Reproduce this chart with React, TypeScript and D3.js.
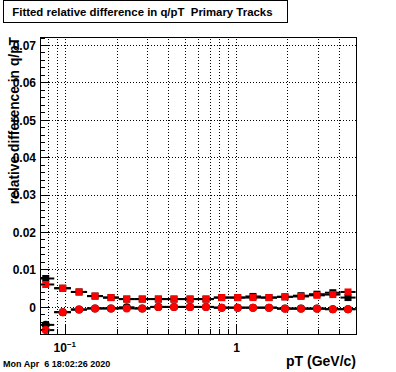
import React from "react";
import * as d3 from "d3";

const W = 396, H = 372;
const title = "Fitted relative difference in q/pT  Primary Tracks";
const xTitle = "pT (GeV/c)";
const yTitle = "relative difference in q/pT";
const dateText = "Mon Apr  6 18:02:26 2020";

const pt = [0.0766, 0.0963, 0.120, 0.1488, 0.1845, 0.228, 0.281, 0.349, 0.431, 0.535, 0.663, 0.819, 1.016, 1.249, 1.549, 1.921, 2.384, 2.956, 3.66, 4.49];
const blackSquares = [0.0077, 0.0051, 0.0041, 0.0030, 0.0026, 0.0022, 0.0022, 0.0022, 0.0022, 0.0022, 0.0022, 0.0026, 0.0026, 0.0029, 0.0026, 0.0028, 0.0031, 0.0035, 0.0039, 0.0026];
const redSquares = [0.0061, 0.0051, 0.0041, 0.0030, 0.0026, 0.0022, 0.0022, 0.0022, 0.0022, 0.0022, 0.0022, 0.0026, 0.0026, 0.0026, 0.0026, 0.0028, 0.0029, 0.0032, 0.0034, 0.0041];
const blackCircles = [-0.0047, -0.0013, -0.0006, -0.0003, -0.0003, 0.0000, -0.0003, 0.0001, 0.0001, 0.0001, 0.0001, -0.0001, -0.0001, -0.0001, -0.0001, -0.0003, -0.0003, -0.0003, -0.0005, -0.0005];
const redCircles = [-0.0061, -0.0013, -0.0006, -0.0003, -0.0003, -0.0003, -0.0003, 0.0001, 0.0001, 0.0001, 0.0001, -0.0001, -0.0001, -0.0001, -0.0001, -0.0004, -0.0004, -0.0004, -0.0005, -0.0005];

const yTicks = [0, 0.01, 0.02, 0.03, 0.04, 0.05, 0.06, 0.07];
const xMajor = [0.1, 1];
const xMinor = [0.08, 0.09, 0.2, 0.3, 0.4, 0.5, 0.6, 0.7, 0.8, 0.9, 2, 3, 4];

const FONT = "'Liberation Sans', Arial, Helvetica, sans-serif";

export default function App() {
  const x = d3.scaleLog().domain([0.0709, 5.0]).range([40, 356]);
  const y = d3.scaleLinear().domain([-0.00714, 0.07227]).range([334, 37]);
  const [x0, x1] = x.range();
  const [y0, y1] = y.range();

  const yMinor = d3.range(-0.006, 0.0722, 0.002).filter(v => Math.abs(v / 0.01 - Math.round(v / 0.01)) > 1e-6);

  const edges = pt.map((v, i) => {
    const prev = i > 0 ? pt[i - 1] : (v * v) / pt[i + 1];
    const next = i < pt.length - 1 ? pt[i + 1] : (v * v) / pt[i - 1];
    return [Math.sqrt(prev * v), Math.sqrt(v * next)];
  });

  const series = (vals: number[], color: string, shape: "sq" | "ci", key: string) => (
    <g key={key}>
      {vals.map((v, i) => (
        <line key={"e" + i} x1={x(edges[i][0])} x2={x(edges[i][1])} y1={y(v)} y2={y(v)} stroke="#000" strokeWidth={2} />
      ))}
      {vals.map((v, i) =>
        shape === "sq" ? (
          <rect key={"m" + i} x={x(pt[i]) - 3.5} y={y(v) - 3.5} width={7} height={7} fill={color} />
        ) : (
          <circle key={"m" + i} cx={x(pt[i])} cy={y(v)} r={4} fill={color} />
        )
      )}
    </g>
  );

  return (
    <svg width={W} height={H} style={{ position: "absolute", left: 0, top: 0, background: "#fff" }} fontFamily={FONT}>
      <rect x={0} y={0} width={W} height={H} fill="#fff" />
      <defs>
        <clipPath id="frame">
          <rect x={x0} y={y1} width={x1 - x0} height={y0 - y1} />
        </clipPath>
      </defs>
      {/* grid */}
      <g stroke="#000" strokeWidth={1} strokeDasharray="1,2" shapeRendering="crispEdges">
        {yTicks.map(t => (
          <line key={"gy" + t} x1={x0} x2={x1} y1={y(t)} y2={y(t)} />
        ))}
        {[...xMinor, ...xMajor].map(t => (
          <line key={"gx" + t} x1={x(t)} x2={x(t)} y1={y0} y2={y1} />
        ))}
      </g>
      {/* data */}
      <g clipPath="url(#frame)">
        {series(blackSquares, "#000", "sq", "bs")}
        {series(blackCircles, "#000", "ci", "bc")}
        {series(redSquares, "#ff0000", "sq", "rs")}
        {series(redCircles, "#ff0000", "ci", "rc")}
      </g>
      {/* frame */}
      <rect x={x0} y={y1} width={x1 - x0} height={y0 - y1} fill="none" stroke="#000" strokeWidth={1} shapeRendering="crispEdges" />
      {/* y ticks */}
      <g stroke="#000" strokeWidth={1} shapeRendering="crispEdges">
        {yTicks.map(t => (
          <line key={"ty" + t} x1={x0} x2={x0 + 9} y1={y(t)} y2={y(t)} />
        ))}
        {yMinor.map(t => (
          <line key={"tym" + t} x1={x0} x2={x0 + 5} y1={y(t)} y2={y(t)} />
        ))}
        {xMajor.map(t => (
          <line key={"tx" + t} x1={x(t)} x2={x(t)} y1={y0} y2={y0 - 9} />
        ))}
        {xMinor.map(t => (
          <line key={"txm" + t} x1={x(t)} x2={x(t)} y1={y0} y2={y0 - 5} />
        ))}
      </g>
      {/* y tick labels */}
      <g fontSize={12} fontWeight="bold" textAnchor="end">
        {yTicks.map(t => (
          <text key={"ly" + t} x={36} y={y(t)} dy="0.36em">{t === 0 ? "0" : d3.format(".2f")(t)}</text>
        ))}
      </g>
      {/* x tick labels */}
      <g fontSize={12} fontWeight="bold">
        <text x={x(0.1) - 12} y={352}>10<tspan fontSize={8} dy={-5}>−1</tspan></text>
        <text x={x(1)} y={352} textAnchor="middle">1</text>
      </g>
      {/* axis titles */}
      <text x={356} y={366} textAnchor="end" fontSize={14} fontWeight="bold">{xTitle}</text>
      <text transform={`translate(19,${y1}) rotate(-90)`} textAnchor="end" fontSize={13.8} fontWeight="bold">{yTitle}</text>
      {/* title box */}
      <rect x={3.5} y={0.5} width={284} height={22} fill="#fff" stroke="#000" strokeWidth={1} />
      <text x={12.3} y={15.7} fontSize={11.4} fontWeight="bold" style={{ whiteSpace: "pre" }}>{title}</text>
      {/* date */}
      <text x={3} y={367} fontSize={9} fontWeight="bold" style={{ whiteSpace: "pre" }}>{dateText}</text>
    </svg>
  );
}
